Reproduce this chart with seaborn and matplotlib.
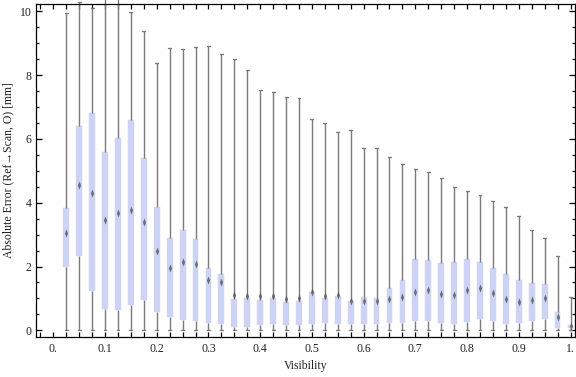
import matplotlib
matplotlib.use("Agg")
import matplotlib.pyplot as plt
from matplotlib.path import Path
from matplotlib.ticker import MultipleLocator, FixedLocator
import numpy as np
import pandas as pd
import seaborn as sns

# ---- data ----
visibility = [0.025, 0.05, 0.075, 0.1, 0.125, 0.15, 0.175, 0.2, 0.225, 0.25,
              0.275, 0.3, 0.325, 0.35, 0.375, 0.4, 0.425, 0.45, 0.475, 0.5,
              0.525, 0.55, 0.575, 0.6, 0.625, 0.65, 0.675, 0.7, 0.725, 0.75,
              0.775, 0.8, 0.825, 0.85, 0.875, 0.9, 0.925, 0.95, 0.975, 1.0]
whisker_low = [0.0, 0.02, 0.0, 0.0, 0.0, 0.0, 0.0, 0.0, 0.0, 0.0,
               0.0, 0.0, 0.0, 0.0, 0.0, 0.0, 0.0, 0.0, 0.0, 0.0,
               0.0, 0.0, 0.0, 0.0, 0.0, 0.0, 0.0, 0.0, 0.0, 0.0,
               0.0, 0.0, 0.0, 0.0, 0.0, 0.0, 0.0, 0.0, 0.0, 0.0]
q1 = [1.97, 2.32, 1.23, 0.67, 0.64, 0.80, 0.95, 0.58, 0.42, 0.32,
      0.29, 0.23, 0.19, 0.10, 0.10, 0.16, 0.20, 0.17, 0.17, 0.20,
      0.23, 0.20, 0.20, 0.20, 0.20, 0.23, 0.23, 0.29, 0.29, 0.23,
      0.20, 0.26, 0.35, 0.29, 0.20, 0.23, 0.29, 0.35, 0.07, 0.07]
q3 = [3.82, 6.40, 6.80, 5.59, 6.02, 6.59, 5.40, 3.88, 2.88, 3.16,
      2.86, 1.95, 1.76, 0.97, 1.00, 0.94, 1.00, 0.88, 0.91, 1.19,
      1.00, 1.07, 0.91, 1.04, 1.00, 1.32, 1.57, 2.23, 2.20, 2.10,
      2.13, 2.23, 2.13, 1.95, 1.76, 1.57, 1.47, 1.44, 0.56, 0.17]
center = [3.05, 4.55, 4.31, 3.45, 3.69, 3.77, 3.38, 2.50, 1.96, 2.14,
          2.07, 1.59, 1.50, 1.10, 1.09, 1.07, 1.07, 0.97, 1.00, 1.21,
          1.07, 1.12, 0.92, 0.91, 0.91, 0.98, 1.04, 1.21, 1.26, 1.14,
          1.10, 1.26, 1.34, 1.17, 0.98, 0.89, 0.96, 1.01, 0.42, 0.12]
whisker_high = [9.94, 10.28, 10.09, 10.6, 10.6, 9.97, 9.39, 8.37, 8.86, 8.83,
                8.87, 8.90, 8.65, 8.52, 8.15, 7.52, 7.46, 7.32, 7.27, 6.64,
                6.49, 6.23, 6.27, 5.70, 5.70, 5.42, 5.20, 5.07, 4.95, 4.79,
                4.48, 4.38, 4.23, 4.04, 3.88, 3.57, 3.16, 2.88, 2.34, 1.04]

x_ticks = [0.0, 0.1, 0.2, 0.3, 0.4, 0.5, 0.6, 0.7, 0.8, 0.9, 1.0]
x_tick_labels = ["0.", "0.1", "0.2", "0.3", "0.4", "0.5", "0.6", "0.7", "0.8", "0.9", "1."]
y_ticks = [0, 2, 4, 6, 8, 10]
y_tick_labels = ["0", "2", "4", "6", "8", "10"]

# five-number summaries as long-form table (box drawn by seaborn with whis=(0,100))
rows = []
for v, lo, a, b, hi in zip(visibility, whisker_low, q1, q3, whisker_high):
    for val in (lo, a, a, b, hi):
        rows.append({"Visibility": v, "err": val})
df = pd.DataFrame(rows)
mk = pd.DataFrame({"Visibility": visibility, "center": center})

sns.set_style("ticks")
plt.rcParams["font.family"] = ["Liberation Serif", "DejaVu Serif"]

BOX = "#cdd3f5"
GREY = "#7a7a7a"

fig = plt.figure(figsize=(5.76, 3.77), dpi=100)
ax = fig.add_axes([36 / 576, 1 - 337 / 377, (575 - 36) / 576, (337 - 4) / 377])

sns.boxplot(data=df, x="Visibility", y="err", native_scale=True, whis=(0, 100),
            width=0.45, color=BOX, saturation=1, linecolor=GREY, linewidth=1.0,
            fliersize=0, medianprops={"visible": False}, ax=ax)
for p in ax.patches:
    p.set_edgecolor(p.get_facecolor())
    p.set_linewidth(0.3)
for ln in ax.lines:
    ln.set_clip_on(False)

diamond = Path([(0, 1), (0.38, 0), (0, -1), (-0.38, 0), (0, 1)],
               [Path.MOVETO, Path.LINETO, Path.LINETO, Path.LINETO, Path.CLOSEPOLY])
sns.scatterplot(data=mk, x="Visibility", y="center", marker=diamond, s=34,
                color="#5a5a5a", linewidth=0, alpha=0.85, zorder=5, ax=ax)

ax.set_xlim(-0.0335, 1.0087)
ax.set_ylim(-0.21, 10.23)
ax.xaxis.set_major_locator(FixedLocator(x_ticks))
ax.set_xticklabels(x_tick_labels)
ax.xaxis.set_minor_locator(MultipleLocator(0.025))
ax.yaxis.set_major_locator(FixedLocator(y_ticks))
ax.set_yticklabels(y_tick_labels)
ax.yaxis.set_minor_locator(MultipleLocator(0.5))

ax.tick_params(axis="both", which="both", direction="in", top=True, right=True,
               width=0.9, color="black", labelsize=8.5, labelcolor="#222222")
ax.tick_params(axis="x", which="both", length=3.6, pad=4)
ax.tick_params(axis="y", which="major", length=4.0, pad=3)
ax.tick_params(axis="y", which="minor", length=2.2)
for s in ax.spines.values():
    s.set_linewidth(0.9)
    s.set_color("black")

ax.set_xlabel("Visibility", fontsize=8.5, labelpad=4, color="#222222")
ax.set_ylabel("Absolute Error (Ref\u2192Scan, O) [mm]", fontsize=8.5, labelpad=4,
              color="#222222")
ax.grid(False)

fig.savefig("out.png", dpi=100)
